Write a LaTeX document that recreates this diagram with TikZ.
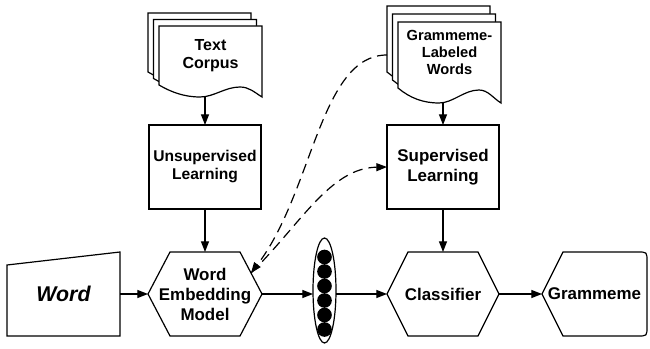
\documentclass[tikz,border=0pt]{standalone}
\usepackage{fontspec}
\setmainfont{Liberation Sans}
\usetikzlibrary{arrows.meta,shapes.geometric}

% one sheet of a document stack: left, top, height, wave depth
\newcommand{\docpage}[4]{%
  \draw[fill=white, shift={(#1,#2)}] (0,0) -- (103,0) -- (103,#3+#4)
    .. controls (95,#3+#4-5) and (90,#3+2) .. (81,#3+2)
    .. controls (66,#3+2) and (55,#3+#4) .. (41,#3+#4)
    .. controls (25,#3+#4) and (12,#3+#4-5) .. (0,#3) -- cycle;}
% hexagon round a node: name, inset
\newcommand{\hexa}[2]{%
  \draw (#1.west) -- ([xshift=#2]#1.north west) -- ([xshift=-#2]#1.north east)
    -- (#1.east) -- ([xshift=-#2]#1.south east) -- ([xshift=#2]#1.south west) -- cycle;}

\begin{document}
\begin{tikzpicture}[x=0.75pt, y=-0.75pt, line width=0.9pt,
  arr/.style={-{Triangle[length=8pt,width=6pt]}},
  dasharr/.style={arr, dash pattern=on 7.5pt off 4.5pt},
  blk/.style={minimum width=84pt, minimum height=63pt, inner sep=0pt, outer sep=0pt, align=center},
  big/.style={font=\fontsize{12.7}{15}\selectfont\bfseries}]
\useasboundingbox (0,0) rectangle (650,349);

% inputs
\docpage{148}{13}{59}{12}
\docpage{153.5}{19.5}{59}{12}
\docpage{159}{26}{59}{12}
\node[align=center, font=\fontsize{12}{13.5}\selectfont\bfseries] (corpus) at (210.5,55.5) {Text\\Corpus};
\coordinate (corpusfoot) at (205,97);

\docpage{387}{6}{66}{15}
\docpage{392.5}{14}{66}{15}
\docpage{398}{22}{66}{15}
\node[align=center, font=\fontsize{11}{12.75}\selectfont\bfseries] (glw) at (449.5,52) {Grammeme-\\Labeled\\Words};
\coordinate (glwfoot) at (443,103);
\coordinate (glwside) at (387,55);

% learning
\node[blk, draw, font=\fontsize{11.7}{13.5}\selectfont\bfseries] (unsup) at (205,167) {Unsupervised\\Learning};
\node[blk, draw, big] (sup) at (443,167) {Supervised\\Learning};

% main row
\node[blk, minimum width=84.75pt, font=\fontsize{16}{18}\selectfont\bfseries\itshape] (word) at (63.5,294) {Word};
\draw (word.south west) -- (word.south east) -- (word.north east) -- ([yshift=-9.75pt]word.north west) -- cycle;

\node[blk, minimum width=85.5pt, big] (wem) at (205,294) {Word\\Embedding\\Model};
\hexa{wem}{16.5pt}
\coordinate (wemin) at (251,273);

\node[draw, ellipse, minimum width=17.25pt, minimum height=78.75pt, inner sep=0pt, outer sep=0pt] (vec) at (324.5,290.5) {};
\foreach \k in {0,...,5}
  \fill (324.5,257+14.5*\k) circle (5.5pt);

\node[blk, big] (cls) at (443,294) {Classifier};
\hexa{cls}{15.75pt}

\node[blk, minimum width=78.75pt, big] (gram) at (594.5,294) {Grammeme};
\draw (gram.west) -- ([xshift=15.75pt]gram.north west) -- ([xshift=-7pt]gram.north east)
  .. controls (gram.north east) .. ([yshift=-7pt]gram.north east)
  -- ([yshift=7pt]gram.south east) .. controls (gram.south east) .. ([xshift=-7pt]gram.south east)
  -- ([xshift=15.75pt]gram.south west) -- cycle;

% connectors
\draw[arr] (corpusfoot) -- (unsup);
\draw[arr] (glwfoot) -- (sup);
\draw[arr] (unsup) -- (wem);
\draw[arr] (sup) -- (cls);
\draw[arr] (word) -- (wem);
\draw[arr] (wem.east) -- (wem.east -| vec.west);
\draw[arr] (vec.east |- cls.west) -- (cls.west);
\draw[arr] (cls) -- (gram);
\draw[dasharr] (glwside) .. controls (320,55) and (313,192) .. (wemin);
\draw[dasharr] (wemin) .. controls (300,225) and (330,168) .. (sup.west);
\end{tikzpicture}
\end{document}
